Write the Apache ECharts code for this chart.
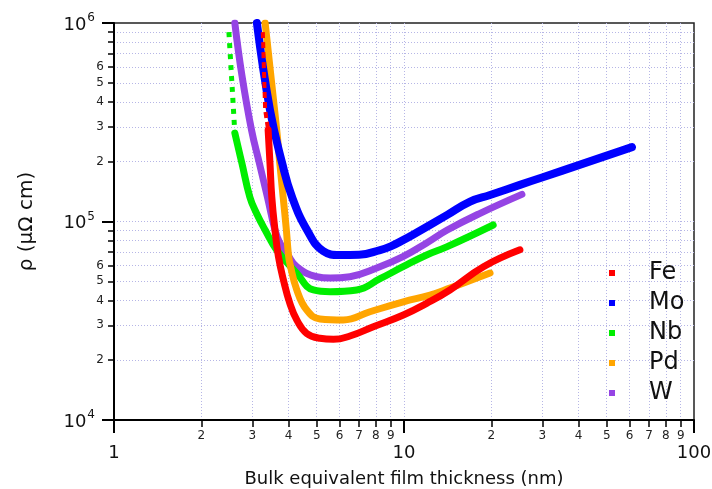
<!DOCTYPE html>
<html>
<head>
<meta charset="utf-8">
<script src="https://cdn.jsdelivr.net/npm/echarts@6/dist/echarts.min.js"></script>
<style>
html,body{margin:0;padding:0;background:#fff;}
#chart{width:712px;height:489px;}
</style>
</head>
<body>
<div id="chart"></div>
<script>
// thickness (nm), resistivity (µΩ cm)
const feDashed = [[3.26, 9.0e5], [3.32, 3.65e5], [3.40, 2.89e5]];
const fe = [[3.40, 2.89e5], [3.45, 1.97e5], [3.50, 1.33e5], [3.59, 9.06e4], [3.69, 6.65e4], [3.84, 5.07e4], [4.04, 3.87e4], [4.27, 3.19e4], [4.62, 2.73e4], [5.13, 2.58e4], [5.71, 2.55e4], [6.51, 2.65e4], [7.84, 2.95e4], [9.95, 3.38e4], [11.97, 3.87e4], [14.4, 4.52e4], [18.8, 5.92e4], [25.1, 7.2e4]];
const mo = [[3.11, 1e6], [3.45, 3.65e5], [3.80, 1.97e5], [4.11, 1.33e5], [4.63, 9.06e4], [5.26, 7.1e4], [6.0, 6.78e4], [7.0, 6.8e4], [8.27, 7.18e4], [9.0, 7.5e4], [10.0, 8.1e4], [10.7, 8.55e4], [14.1, 1.08e5], [16.9, 1.26e5], [19.8, 1.36e5], [25.1, 1.53e5], [30.1, 1.67e5], [61.1, 2.37e5]];
const nbDotted = [[2.49, 9.0e5], [2.55, 5.0e5], [2.61, 2.79e5]];
const nb = [[2.61, 2.79e5], [2.76, 1.97e5], [2.94, 1.33e5], [3.10, 1.10e5], [3.32, 9.06e4], [3.64, 7.18e4], [4.27, 5.48e4], [4.87, 4.52e4], [5.56, 4.43e4], [6.87, 4.52e4], [8.27, 5.15e4], [9.92, 5.92e4], [11.97, 6.78e4], [14.1, 7.47e4], [20.3, 9.6e4]];
const pd = [[3.32, 1e6], [3.64, 2.89e5], [3.73, 1.97e5], [3.83, 1.33e5], [3.93, 9.06e4], [3.99, 6.94e4], [4.04, 6.15e4], [4.27, 4.52e4], [4.62, 3.58e4], [5.13, 3.23e4], [6.18, 3.19e4], [7.63, 3.51e4], [9.95, 3.94e4], [12.3, 4.26e4], [14.4, 4.62e4], [19.8, 5.5e4]];
const w = [[2.61, 1e6], [2.76, 5.47e5], [2.98, 2.89e5], [3.17, 1.97e5], [3.38, 1.33e5], [3.59, 9.06e4], [3.73, 7.8e4], [3.94, 6.94e4], [4.27, 5.91e4], [5.0, 5.27e4], [5.56, 5.19e4], [6.51, 5.27e4], [8.05, 5.83e4], [9.92, 6.65e4], [11.97, 7.8e4], [14.1, 9.06e4], [18.3, 1.10e5], [25.5, 1.37e5]];

const legendNames = ['Fe', 'Mo', 'Nb', 'Pd', 'W'];
const colors = {Fe: '#ff0000', Mo: '#0000ff', Nb: '#00ee00', Pd: '#ffa500', W: '#9544e4'};

const xMajorTicks = [1, 10, 100];
const xMinorTicks = [2, 3, 4, 5, 6, 7, 8, 9, 10, 20, 30, 40, 50, 60, 70, 80, 90];
const xMinorLabels = [2, 3, 4, 5, 6, 7, 8, 9, 20, 30, 40, 50, 60, 70, 80, 90];
const yMajorTicks = [1e4, 1e5, 1e6];
const yMinorTicks = [2e4, 3e4, 4e4, 5e4, 6e4, 7e4, 8e4, 9e4, 1e5, 2e5, 3e5, 4e5, 5e5, 6e5, 7e5, 8e5, 9e5];
const yMinorLabels = [2e4, 3e4, 4e4, 5e4, 6e4, 2e5, 3e5, 4e5, 5e5, 6e5];

const FONT = 'DejaVu Sans';
const gridStyle = {show: true, lineStyle: {color: '#b6b6e6', width: 1, type: [1, 2]}};
const mant = v => Math.round(v / Math.pow(10, Math.floor(Math.log10(v) + 1e-9)));

const chart = echarts.init(document.getElementById('chart'), null, {renderer: 'canvas'});

function line(name, data, extra) {
  return Object.assign({
    name: name, type: 'line', data: data, showSymbol: false, symbol: 'none',
    smooth: 0.45, xAxisIndex: 0, yAxisIndex: 0,
    lineStyle: {color: colors[name], width: 7, cap: 'round', join: 'round'},
    itemStyle: {color: colors[name]}, animation: false
  }, extra || {});
}

chart.setOption({
  animation: false,
  textStyle: {fontFamily: FONT},
  grid: {left: 114, right: 18, top: 23, bottom: 69, containLabel: false, outerBoundsMode: 'none',
         show: true, borderColor: '#222', borderWidth: 1.5, backgroundColor: 'transparent'},
  legend: {
    data: legendNames, orient: 'vertical', left: 604, top: 253,
    icon: 'rect', itemWidth: 6, itemHeight: 6, itemGap: 0,
    textStyle: {fontSize: 24, color: '#111', fontFamily: FONT, lineHeight: 30, padding: [0, 0, 0, 29]},
    selectedMode: false
  },
  xAxis: [
    {type: 'log', logBase: 10, min: 1, max: 100, position: 'bottom',
     name: 'Bulk equivalent film thickness (nm)', nameLocation: 'middle', nameGap: 50,
     nameTextStyle: {fontSize: 18, color: '#111', fontFamily: FONT},
     axisLine: {show: true, lineStyle: {color: '#000', width: 2}},
     axisTick: {show: true, inside: false, length: 13, lineStyle: {color: '#000', width: 2}, customValues: xMajorTicks},
     axisLabel: {show: true, fontSize: 18, color: '#111', margin: 24, customValues: xMajorTicks, formatter: v => String(Math.round(v))},
     splitLine: {show: false}},
    {type: 'log', logBase: 10, min: 1, max: 100, position: 'bottom',
     axisLine: {show: false},
     axisTick: {show: true, inside: false, length: 7, lineStyle: {color: '#000', width: 1.5}, customValues: xMinorTicks},
     axisLabel: {show: true, fontSize: 12, color: '#222', margin: 10, interval: 0, customValues: xMinorLabels, formatter: v => String(mant(v))},
     splitLine: gridStyle}
  ],
  yAxis: [
    {type: 'log', logBase: 10, min: 1e4, max: 1e6, position: 'left',
     name: 'ρ (μΩ cm)', nameLocation: 'middle', nameGap: 77, nameRotate: 90,
     nameTextStyle: {fontSize: 20, color: '#111', fontFamily: FONT},
     axisLine: {show: true, lineStyle: {color: '#000', width: 2}},
     axisTick: {show: true, inside: false, length: 12, lineStyle: {color: '#000', width: 2}, customValues: yMajorTicks},
     axisLabel: {show: true, margin: 19, color: '#111', customValues: yMajorTicks,
       formatter: v => '{b|10}{s|' + Math.round(Math.log10(v)) + '}',
       rich: {b: {fontSize: 18, color: '#111', fontFamily: FONT, verticalAlign: 'bottom'},
              s: {fontSize: 12, color: '#111', fontFamily: FONT, verticalAlign: 'bottom', padding: [0, 0, 10, 1]}}},
     splitLine: {show: false}},
    {type: 'log', logBase: 10, min: 1e4, max: 1e6, position: 'left',
     axisLine: {show: false},
     axisTick: {show: true, inside: false, length: 6, lineStyle: {color: '#000', width: 1.5}, customValues: yMinorTicks},
     axisLabel: {show: true, fontSize: 12, color: '#222', margin: 10, interval: 0, customValues: yMinorLabels, formatter: v => String(mant(v))},
     splitLine: gridStyle}
  ],
  series: [
    line('W', w),
    line('Nb', nbDotted, {smooth: false, lineStyle: {color: colors.Nb, width: 5, type: [5, 6], cap: 'butt'}}),
    line('Nb', nb),
    line('Pd', pd),
    line('Mo', mo, {lineStyle: {color: colors.Mo, width: 8, cap: 'round', join: 'round'}}),
    line('Fe', feDashed, {smooth: false, lineStyle: {color: colors.Fe, width: 4, type: [6, 4], cap: 'butt'}}),
    line('Fe', fe)
  ]
});
</script>
</body>
</html>
